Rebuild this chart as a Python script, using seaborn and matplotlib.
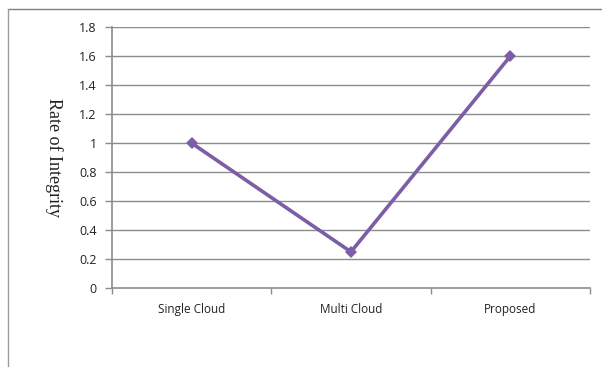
import matplotlib
matplotlib.use("Agg")
import matplotlib.pyplot as plt
from matplotlib.lines import Line2D
import seaborn as sns
import pandas as pd

categories = ["Single Cloud", "Multi Cloud", "Proposed"]
integrity = [1.0, 0.25, 1.6]
y_ticks = [0, 0.2, 0.4, 0.6, 0.8, 1, 1.2, 1.4, 1.6, 1.8]
y_tick_labels = ["0", "0.2", "0.4", "0.6", "0.8", "1", "1.2", "1.4", "1.6", "1.8"]

df = pd.DataFrame({"method": categories, "rate": integrity, "pos": range(len(categories))})

sns.set_style("white")
plt.rcParams["font.family"] = ["Open Sans", "DejaVu Sans"]

fig = plt.figure(figsize=(6.02, 3.67), dpi=100)
ax = fig.add_axes([0.186, 0.215, 0.794, 0.711])

grid_col = "#8c8c8c"
for v in y_ticks[1:]:
    ax.axhline(v, color=grid_col, lw=1.0, zorder=1)

sns.lineplot(data=df, x="pos", y="rate", ax=ax, color="#7b5ea6", lw=2.6,
             marker="D", markersize=6, markeredgewidth=0, zorder=3)

ax.set_xlim(-0.5, 2.5)
ax.set_ylim(0, 1.8)
ax.set_xticks([-0.5, 0.5, 1.5, 2.5])
ax.set_xticklabels([])
ax.set_xticks(df["pos"], minor=True)
ax.set_xticklabels(categories, minor=True)
ax.tick_params(axis="x", which="major", length=4, width=1, color=grid_col, direction="out", bottom=True)
ax.tick_params(axis="x", which="minor", length=0, pad=11, labelsize=8.5, labelcolor="#222222")
ax.set_yticks(y_ticks)
ax.set_yticklabels(y_tick_labels)
ax.tick_params(axis="y", length=5, width=1, color=grid_col, direction="out", left=True,
               labelsize=9, labelcolor="#222222", pad=6)

for side in ["top", "right"]:
    ax.spines[side].set_visible(False)
for side in ["left", "bottom"]:
    ax.spines[side].set_color(grid_col)
    ax.spines[side].set_linewidth(1.2)

ax.set_xlabel("")
ax.set_ylabel("Rate of Integrity", rotation=270, family=["Liberation Serif"], fontsize=13,
              color="#222222", labelpad=10)
ax.yaxis.set_label_coords(-0.14, 0.5)

# outer chart border (top and left edges)
fig.add_artist(Line2D([8 / 602, 1.0], [1 - 9 / 367, 1 - 9 / 367], transform=fig.transFigure,
                      color="#7f7f7f", lw=1.0))
fig.add_artist(Line2D([8 / 602, 8 / 602], [0, 1 - 9 / 367], transform=fig.transFigure,
                      color="#9a9a9a", lw=1.0))

fig.savefig("out.png", dpi=100)
